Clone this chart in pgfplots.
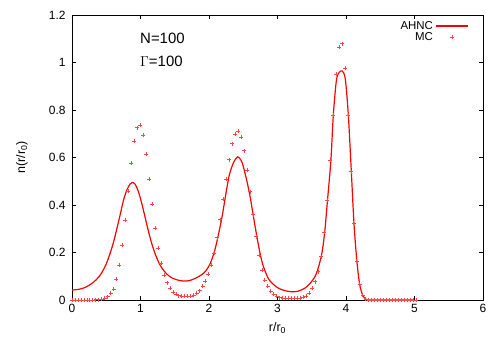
\documentclass[border=0pt]{standalone}
\usepackage{pgfplots}
\pgfplotsset{compat=1.18}
\usepackage{pgfplotstable}
\usepackage{fontspec}
\setmainfont{Liberation Sans}
\definecolor{ahnc}{RGB}{255,0,0}
\definecolor{mcred}{RGB}{255,70,70}

\pgfplotstableread{
r n
0 0
0.0433 0
0.0866 0
0.1299 0
0.1732 0
0.2165 0
0.2598 0
0.3031 0
0.3464 0.001
0.3897 0.002
0.433 0.004
0.4763 0.008
0.5196 0.014
0.5629 0.028
0.6062 0.046
0.6495 0.087
0.6928 0.147
0.7361 0.232
0.7794 0.337
0.8227 0.459
0.866 0.576
0.9093 0.669
0.9526 0.726
0.9959 0.736
1.0392 0.694
1.0825 0.614
1.1258 0.509
1.1691 0.403
1.2124 0.303
1.2557 0.219
1.299 0.155
1.3423 0.106
1.3856 0.073
1.4289 0.050
1.4722 0.034
1.5155 0.024
1.5588 0.018
1.6021 0.015
1.6454 0.015
1.6887 0.015
1.732 0.017
1.7753 0.021
1.8186 0.029
1.8619 0.040
1.9052 0.058
1.9485 0.079
1.9918 0.108
2.0351 0.147
2.0784 0.196
2.1217 0.262
2.165 0.338
2.2083 0.424
2.2516 0.509
2.2949 0.591
2.3382 0.658
2.3815 0.699
2.4248 0.712
2.4681 0.685
2.5114 0.629
2.5547 0.547
2.598 0.456
2.6413 0.359
2.6846 0.267
2.7279 0.189
2.7712 0.127
2.8145 0.084
2.8578 0.057
2.9011 0.038
2.9444 0.025
2.9877 0.015
3.031 0.010
3.0743 0.009
3.1176 0.009
3.1609 0.009
3.2042 0.009
3.2475 0.009
3.2908 0.009
3.3341 0.009
3.3774 0.012
3.4207 0.017
3.464 0.028
3.5073 0.049
3.5506 0.077
3.5939 0.119
3.6372 0.183
3.6805 0.287
3.7238 0.421
3.7671 0.590
3.8104 0.779
3.8537 0.951
3.897 1.065
3.9403 1.079
3.9836 0.976
4.0269 0.779
4.0702 0.540
4.1135 0.323
4.1568 0.164
4.2001 0.067
4.2434 0.021
4.2867 0.004
4.33 0
4.3733 0
4.4166 0
4.4599 0
4.5032 0
4.5465 0
4.5898 0
4.6331 0
4.6764 0
4.7197 0
4.763 0
4.8063 0
4.8496 0
4.8929 0
4.9362 0
4.9795 0
5.0228 0
}\mcdata

\pgfplotstableread{
r n
0.00 0.042
0.10 0.045
0.20 0.054
0.30 0.072
0.40 0.100
0.50 0.152
0.60 0.237
0.70 0.355
0.75 0.418
0.80 0.463
0.85 0.489
0.88 0.495
0.92 0.488
0.97 0.456
1.02 0.405
1.07 0.345
1.12 0.285
1.17 0.232
1.22 0.190
1.28 0.150
1.35 0.120
1.43 0.098
1.52 0.086
1.62 0.080
1.72 0.082
1.82 0.094
1.90 0.108
1.96 0.125
2.02 0.155
2.08 0.205
2.13 0.265
2.19 0.350
2.26 0.470
2.30 0.530
2.36 0.580
2.42 0.603
2.47 0.587
2.50 0.563
2.55 0.505
2.60 0.435
2.65 0.350
2.70 0.265
2.75 0.190
2.79 0.145
2.85 0.100
2.90 0.077
3.00 0.052
3.10 0.040
3.20 0.035
3.30 0.037
3.40 0.050
3.47 0.068
3.55 0.100
3.60 0.140
3.65 0.200
3.69 0.288
3.73 0.420
3.78 0.590
3.815 0.779
3.86 0.925
3.90 0.958
3.946 0.964
3.99 0.930
4.034 0.779
4.078 0.540
4.117 0.320
4.16 0.160
4.20 0.065
4.244 0.020
4.29 0.004
4.35 0.000
5.00 0.000
}\ahncdata

\begin{document}
\begin{tikzpicture}
\begin{axis}[
  at={(0,0)}, anchor=south west,
  scale only axis, width=411bp, height=285bp,
  xmin=0, xmax=6, ymin=0, ymax=1.2,
  xtick={0,1,2,3,4,5,6},
  ytick={0,0.2,0.4,0.6,0.8,1,1.2},
  tick align=inside, major tick length=4bp,
  tick style={black, line width=0.5bp},
  axis line style={black, line width=0.8bp},
  /pgf/number format/assume math mode=true,
  tick label style={font=\fontsize{12}{14}\selectfont},
  yticklabel style={xshift=-3bp},
  xticklabel style={yshift=-1bp},
  label style={font=\fontsize{12.5}{14}\selectfont},
  xlabel={r/r\textsubscript{0}},
  ylabel={n(r/r\textsubscript{0})},
  xlabel style={at={(axis description cs:0.5,-0.111)}, anchor=base},
  ylabel style={at={(axis description cs:-0.122,0.5)}, anchor=center},
  legend plot pos=right,
  legend cell align=right,
  legend style={at={(1,1)}, anchor=north east, xshift=-14bp, yshift=-4bp,
    draw=none, fill=none, inner sep=0pt, row sep=-2.5bp,
    font=\fontsize{11.5}{13}\selectfont},
]
\addplot[color=ahnc, line width=1.2bp, smooth, tension=0.5, forget plot]
  table[x=r, y=n] {\ahncdata};
\addplot[only marks, mark=+, mark size=2bp, color=mcred, mark options={draw=mcred, line width=0.6bp}, forget plot]
  table[x=r, y=n] {\mcdata};
\addlegendimage{color=ahnc, line width=1.2bp, legend image code/.code={\color{ahnc}\pgfsetstrokecolor{ahnc}\draw[draw=ahnc, line width=1.2bp] (0.25cm,0cm) -- (1.4cm,0cm);}}
\addlegendentry{AHNC}
\addlegendimage{color=mcred, legend image code/.code={\color{mcred}\draw[draw=mcred, line width=0.6bp] plot[mark=+, mark size=2bp] coordinates {(0.825cm,0cm)};}}
\addlegendentry{MC}
\node[anchor=base west, font=\fontsize{15}{17}\selectfont, inner sep=0pt] at (axis cs:0.993,1.082) {N=100};
\node[anchor=base west, font=\fontsize{15}{17}\selectfont, inner sep=0pt] at (axis cs:0.993,0.982) {$\Gamma$=100};
\end{axis}
\path (-72bp,-50bp) rectangle (428bp,300bp);
\end{tikzpicture}
\end{document}
